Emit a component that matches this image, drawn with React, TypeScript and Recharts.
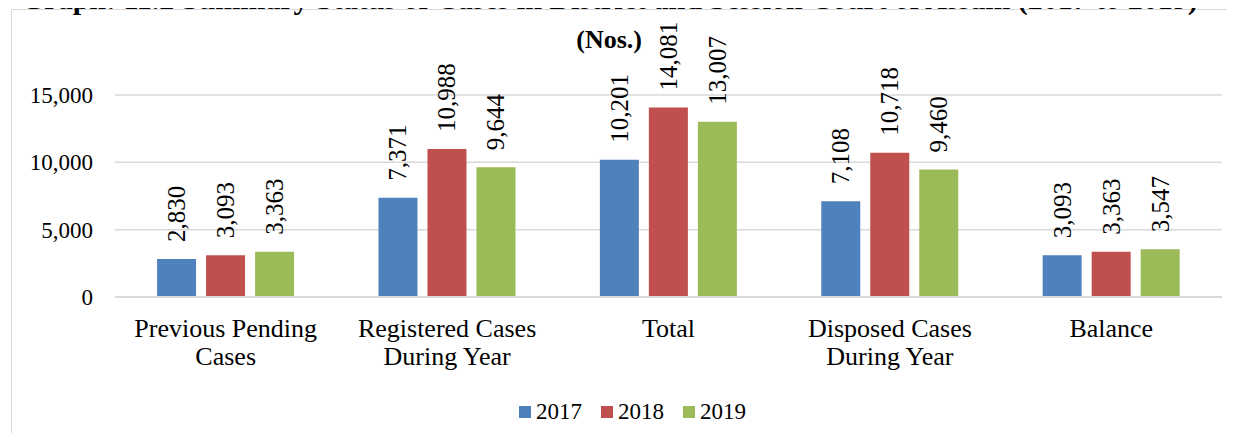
import React from 'react';
import { BarChart, Bar, XAxis, YAxis, CartesianGrid, Legend, LabelList } from 'recharts';

// categories split over two lines where the original wraps
const categories = [
  'Previous Pending\nCases',
  'Registered Cases\nDuring Year',
  'Total',
  'Disposed Cases\nDuring Year',
  'Balance',
];
const cases2017 = [2830, 7371, 10201, 7108, 3093];
const cases2018 = [3093, 10988, 14081, 10718, 3363];
const cases2019 = [3363, 9644, 13007, 9460, 3547];
const yTicks = [0, 5000, 10000, 15000];
const years = ['2017', '2018', '2019'];
const colors = ['#4f81bd', '#c0504d', '#9bbb59'];

const data = categories.map((name, i) => ({
  name,
  '2017': cases2017[i],
  '2018': cases2018[i],
  '2019': cases2019[i],
}));

const FONT = '"Liberation Serif", "Times New Roman", serif';

function CategoryTick({ x, y, payload }: any) {
  const lines = String(payload.value).split('\n');
  return (
    <text x={x} y={y} textAnchor="middle" fontSize={26} fill="#000" fontFamily={FONT}>
      {lines.map((line, i) => (
        <tspan key={i} x={x} dy={i === 0 ? 40 : 28}>
          {line}
        </tspan>
      ))}
    </text>
  );
}

function ValueLabel({ x, y, width, value }: any) {
  const cx = Number(x) + Number(width) / 2;
  const ty = Number(y) - 17;
  return (
    <text
      x={cx}
      y={ty}
      transform={`rotate(-90 ${cx} ${ty})`}
      textAnchor="start"
      dominantBaseline="central"
      fontSize={25}
      fill="#000"
      fontFamily={FONT}
    >
      {Number(value).toLocaleString('en-US')}
    </text>
  );
}

function YearLegend() {
  return (
    <div
      style={{
        display: 'flex',
        justifyContent: 'center',
        height: 24,
        paddingLeft: 30,
        fontSize: 23,
        fontFamily: FONT,
      }}
    >
      {years.map((year, i) => (
        <div key={year} style={{ display: 'flex', alignItems: 'center', marginRight: i < years.length - 1 ? 19 : 0 }}>
          <span style={{ width: 12, height: 12, background: colors[i], marginRight: 5, display: 'inline-block' }} />
          <span>{year}</span>
        </div>
      ))}
    </div>
  );
}

export default function App() {
  return (
    <div
      style={{
        position: 'relative',
        width: 1235,
        height: 441,
        margin: -8,
        overflow: 'hidden',
        background: '#fff',
        fontFamily: FONT,
        color: '#000',
      }}
    >
      <div
        style={{
          position: 'absolute',
          left: 11,
          top: 9,
          width: 1300,
          height: 500,
          border: '1.5px solid #d9d9d9',
          background: '#fff',
        }}
      />
      <div
        style={{
          position: 'absolute',
          left: 21,
          top: -16,
          fontSize: 30,
          lineHeight: '30px',
          fontWeight: 'bold',
          whiteSpace: 'nowrap',
        }}
      >
        Graph: 11.2 Summary Status of Cases in District and Session Court of Assam (2017 to 2019)
      </div>
      <div
        style={{
          position: 'absolute',
          right: 593,
          top: 27,
          fontSize: 26,
          lineHeight: '26px',
          fontWeight: 'bold',
          whiteSpace: 'nowrap',
        }}
      >
        (Nos.)
      </div>
      <div style={{ position: 'absolute', left: 0, top: 0 }}>
        <BarChart
          width={1235}
          height={441}
          data={data}
          margin={{ top: 95, right: 13, bottom: 0, left: 8 }}
          barCategoryGap="19%"
          barGap={10}
          style={{ fontFamily: FONT }}
        >
          <CartesianGrid vertical={false} stroke="#d9d9d9" strokeWidth={1.5} />
          <XAxis
            dataKey="name"
            height={120}
            interval={0}
            tickLine={false}
            tickSize={0}
            tickMargin={0}
            axisLine={{ stroke: '#d9d9d9', strokeWidth: 2 }}
            tick={<CategoryTick />}
          />
          <YAxis
            width={107}
            domain={[0, 15000]}
            ticks={yTicks}
            axisLine={false}
            tickLine={false}
            tickSize={0}
            tickMargin={22}
            tick={{ fontSize: 23, fill: '#000', fontFamily: FONT }}
            tickFormatter={(v: number) => v.toLocaleString('en-US')}
          />
          <Legend
            content={<YearLegend />}
            wrapperStyle={{ position: 'absolute', top: 400, left: 0, width: 1235 }}
          />
          {years.map((year, i) => (
            <Bar key={year} dataKey={year} fill={colors[i]} isAnimationActive={false}>
              <LabelList dataKey={year} content={<ValueLabel />} />
            </Bar>
          ))}
        </BarChart>
      </div>
    </div>
  );
}
